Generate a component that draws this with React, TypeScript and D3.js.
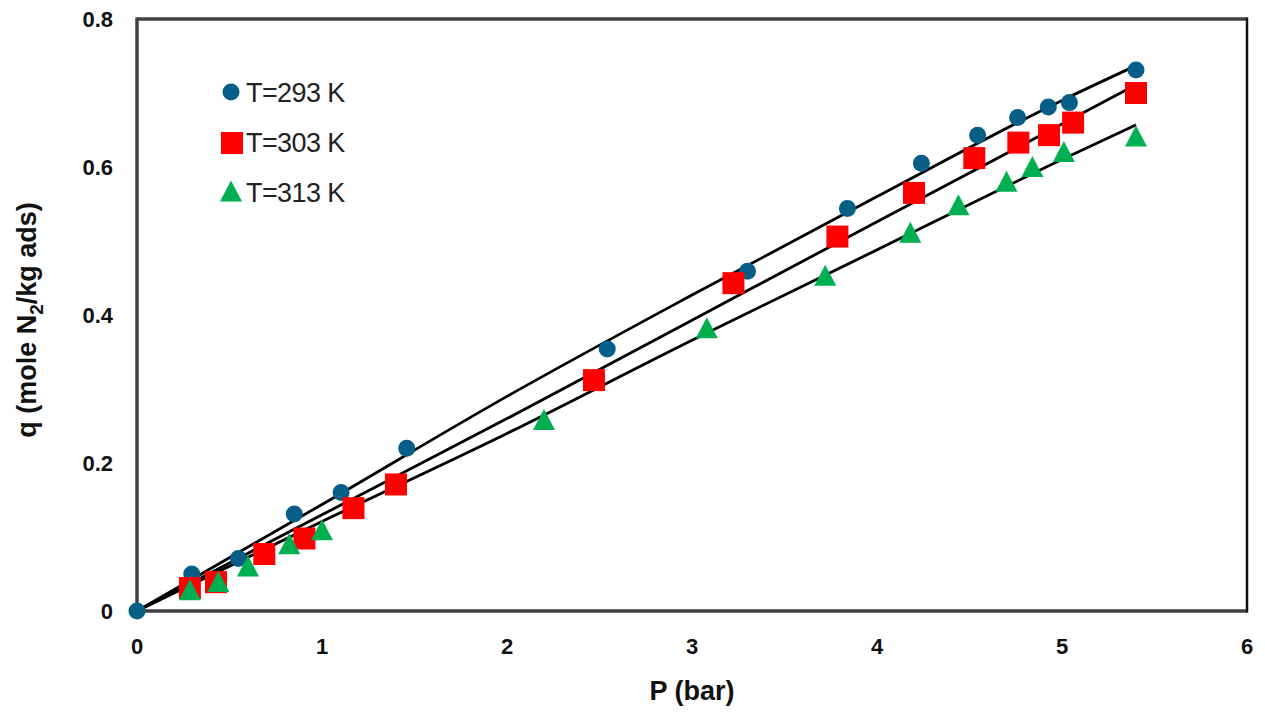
import * as d3 from "d3";

// measured points, T = 293 K
const p293 = [0, 0.296, 0.548, 0.85, 1.103, 1.458, 2.542, 3.3, 3.84, 4.24, 4.544, 4.76, 4.926, 5.04, 5.4];
const q293 = [0, 0.05, 0.071, 0.131, 0.16, 0.22, 0.354, 0.459, 0.544, 0.605, 0.643, 0.667, 0.681, 0.687, 0.731];

// T = 303 K
const p303 = [0.286, 0.427, 0.688, 0.905, 1.17, 1.4, 2.47, 3.224, 3.786, 4.2, 4.526, 4.764, 4.93, 5.06, 5.4];
const q303 = [0.031, 0.039, 0.077, 0.098, 0.139, 0.171, 0.312, 0.443, 0.506, 0.565, 0.612, 0.633, 0.643, 0.66, 0.7];

// T = 313 K
const p313 = [0.286, 0.44, 0.6, 0.823, 1.0, 2.2, 3.08, 3.72, 4.18, 4.44, 4.7, 4.84, 5.01, 5.4];
const q313 = [0.026, 0.037, 0.058, 0.088, 0.107, 0.256, 0.38, 0.451, 0.509, 0.546, 0.578, 0.598, 0.618, 0.639];

// fitted lines
const fitP = [0, 1, 2, 3, 4, 5, 5.4];
const fit293 = [0, 0.144, 0.29, 0.427, 0.56, 0.69, 0.737];
const fit303 = [0, 0.13, 0.26, 0.393, 0.526, 0.658, 0.711];
const fit313 = [0, 0.121, 0.24, 0.366, 0.488, 0.61, 0.657];

const xTicks = [0, 1, 2, 3, 4, 5, 6];
const yTicks = [0, 0.2, 0.4, 0.6, 0.8];
const legendLabels = ["T=293 K", "T=303 K", "T=313 K"];

const width = 1265;
const height = 718;
const left = 137;
const right = 1247;
const top = 19;
const bottom = 611;

const BLUE = "#075E86";
const RED = "#FF0000";
const GREEN = "#00B050";

const font = "'Liberation Sans', Arial, sans-serif";

const x = d3.scaleLinear().domain([0, 6]).range([left, right]);
const y = d3.scaleLinear().domain([0, 0.8]).range([bottom, top]);

const line = d3
  .line<[number, number]>()
  .x((d) => x(d[0]))
  .y((d) => y(d[1]))
  .curve(d3.curveMonotoneX);

const zip = (a: number[], b: number[]) => a.map((v, i) => [v, b[i]] as [number, number]);

const tri = (cx: number, cy: number, w: number, h: number) =>
  `M${cx},${cy - h * 0.6}L${cx + w / 2},${cy + h * 0.4}L${cx - w / 2},${cy + h * 0.4}Z`;

const Circle = ({cx, cy}: {cx: number; cy: number}) => <circle cx={cx} cy={cy} r={8.5} fill={BLUE} />;
const Square = ({cx, cy}: {cx: number; cy: number}) => (
  <rect x={cx - 11} y={cy - 11} width={22} height={22} fill={RED} />
);
const Tri = ({cx, cy}: {cx: number; cy: number}) => <path d={tri(cx, cy, 22, 21)} fill={GREEN} />;

export default function App() {
  return (
    <svg
      width={width}
      height={height}
      style={{position: "absolute", left: 0, top: 0, background: "#fff"}}
      fontFamily={font}
    >
      {/* frame */}
      <line x1={left} x2={left} y1={top - 1.5} y2={bottom + 1.5} stroke="#404040" strokeWidth={3.5} />
      <line x1={left} x2={right} y1={top} y2={top} stroke="#404040" strokeWidth={3.5} />
      <line x1={left} x2={right} y1={bottom} y2={bottom} stroke="#404040" strokeWidth={3.5} />
      <line x1={right} x2={right} y1={top - 1.5} y2={bottom + 1.5} stroke="#111" strokeWidth={2.5} />

      {/* tick labels */}
      {yTicks.map((t) => (
        <text key={t} x={113} y={y(t)} dy="0.36em" textAnchor="end" fontSize={22} fontWeight="bold" fill="#111">
          {t === 0 ? "0" : t.toFixed(1)}
        </text>
      ))}
      {xTicks.map((t) => (
        <text key={t} x={x(t)} y={646} dy="0.36em" textAnchor="middle" fontSize={22} fontWeight="bold" fill="#111">
          {t}
        </text>
      ))}

      {/* axis titles */}
      <text x={(left + right) / 2} y={700} textAnchor="middle" fontSize={27} fontWeight="bold" fill="#111">
        P (bar)
      </text>
      <text
        transform={`translate(36,${(top + bottom) / 2 + 5}) rotate(-90)`}
        textAnchor="middle"
        fontSize={27}
        fontWeight="bold"
        fill="#111"
      >
        q (mole N<tspan dy="7" fontSize={19}>2</tspan>
        <tspan dy="-7">/kg ads)</tspan>
      </text>

      {/* fit lines */}
      {[fit293, fit303, fit313].map((f, i) => (
        <path key={i} d={line(zip(fitP, f)) ?? ""} fill="none" stroke="#000" strokeWidth={2.8} />
      ))}

      {/* markers */}
      {zip(p293, q293).map((d, i) => (
        <Circle key={i} cx={x(d[0])} cy={y(d[1])} />
      ))}
      {zip(p303, q303).map((d, i) => (
        <Square key={i} cx={x(d[0])} cy={y(d[1])} />
      ))}
      {zip(p313, q313).map((d, i) => (
        <Tri key={i} cx={x(d[0])} cy={y(d[1])} />
      ))}

      {/* legend */}
      <Circle cx={231} cy={92} />
      <Square cx={232} cy={143} />
      <Tri cx={231} cy={193} />
      {legendLabels.map((l, i) => (
        <text key={l} x={246} y={92 + i * 50} dy="0.36em" fontSize={27} letterSpacing={-0.6} fill="#222">
          {l}
        </text>
      ))}
    </svg>
  );
}
